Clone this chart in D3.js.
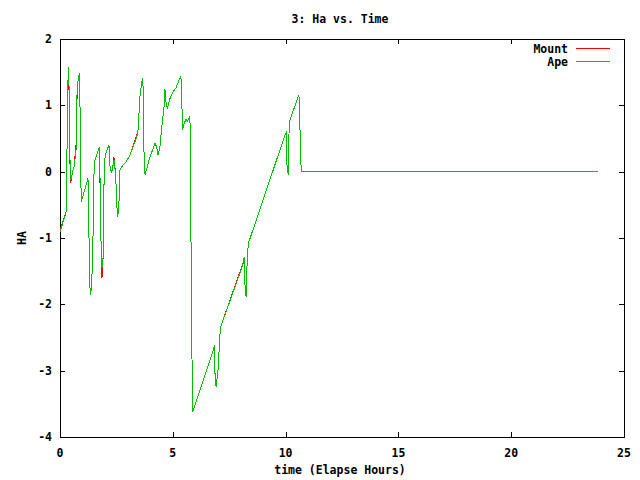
<!DOCTYPE html>
<html>
<head>
<meta charset="utf-8">
<script src="https://cdn.jsdelivr.net/npm/d3@7"></script>
<style>
  body { margin: 0; background: #fff; }
  text { font-family: "DejaVu Sans Mono", monospace; font-weight: bold; font-size: 11.5px; fill: #000; }
</style>
</head>
<body>
<script>
// sample times (elapsed hours)
var time = [0.00,0.27,0.30,0.33,0.37,0.41,0.44,0.47,0.53,0.58,0.62,0.71,0.74,0.80,0.86,0.89,0.92,0.94,
  1.24,1.27,1.30,1.34,1.39,1.45,1.49,1.52,1.74,1.77,1.82,1.86,1.91,1.95,2.00,2.17,2.22,2.29,2.34,2.39,
  2.47,2.51,2.56,2.62,2.66,2.79,2.93,3.10,3.40,3.46,3.55,3.62,3.67,3.70,3.72,3.77,3.95,4.21,4.29,4.34,
  4.43,4.51,4.61,4.65,4.70,4.76,4.85,4.92,5.00,5.14,5.24,5.36,5.40,5.44,5.50,5.59,5.64,5.73,5.76,5.79,
  5.84,5.88,6.80,6.84,6.87,6.92,6.99,7.04,7.06,7.12,8.13,8.16,8.20,8.25,8.30,8.35,9.97,10.02,10.05,
  10.12,10.16,10.59,10.63,10.65,10.70,23.85];

// HA of the ape
var ape = [-0.91,-0.61,-0.05,1.04,1.58,1.20,0.22,-0.13,-0.05,0.03,0.06,0.33,1.08,1.38,1.49,0.93,0.06,-0.46,
  -0.10,-0.53,-1.41,-1.86,-1.78,-1.29,-0.32,0.15,0.37,-0.02,-1.08,-1.45,-1.29,-0.20,0.25,0.40,0.07,-0.02,0.07,0.18,
  -0.05,-0.47,-0.68,-0.43,0.03,0.10,0.15,0.25,0.52,0.63,1.16,1.34,1.41,1.05,0.33,-0.05,0.18,0.43,0.37,0.25,
  0.37,0.67,0.97,1.25,1.05,0.94,1.08,1.14,1.20,1.26,1.35,1.44,1.04,0.63,0.73,0.79,0.75,0.81,0.84,-0.28,
  -2.51,-3.62,-2.69,-2.61,-3.04,-3.25,-3.04,-2.84,-2.57,-2.34,-1.38,-1.29,-1.71,-1.89,-1.30,-1.08,0.55,0.58,0.13,
  -0.05,0.75,1.16,0.88,0.30,0.00,0.00];

// HA of the mount (mostly hidden under ape)
var mount = [-0.88,-0.61,-0.05,1.04,1.58,1.10,0.15,-0.17,-0.05,0.03,0.06,0.40,1.00,1.38,1.49,0.93,0.06,-0.46,
  -0.10,-0.53,-1.41,-1.86,-1.78,-1.29,-0.32,0.15,0.37,-0.10,-1.08,-1.60,-1.29,-0.20,0.25,0.40,0.07,-0.02,0.07,0.22,
  -0.05,-0.47,-0.68,-0.43,0.03,0.10,0.15,0.25,0.55,0.63,1.16,1.34,1.41,1.05,0.33,-0.05,0.18,0.43,0.37,0.25,
  0.37,0.67,0.97,1.25,1.05,0.94,1.08,1.14,1.20,1.26,1.35,1.44,1.04,0.63,0.73,0.79,0.75,0.81,0.84,-0.28,
  -2.51,-3.62,-2.69,-2.61,-3.04,-3.25,-3.04,-2.84,-2.57,-2.34,-1.36,-1.29,-1.71,-1.89,-1.30,-1.08,0.55,0.58,0.13,
  -0.05,0.75,1.16,0.88,0.30,0.00,0.00];

var xTicks = [0, 5, 10, 15, 20, 25];
var yTicks = [-4, -3, -2, -1, 0, 1, 2];
var series = [
  {name: "Mount", values: mount, color: "#ff0000"},
  {name: "Ape", values: ape, color: "#00c000"}
];

var width = 640,
    height = 480;

//plot frame edges
var plotLeft = 60, plotRight = 624, plotTop = 39, plotBottom = 437;

var svg = d3.select("body")
    .append("svg")
    .attr("width", width)
    .attr("height", height);

var x = d3.scaleLinear().domain([0, 25]).range([plotLeft, plotRight]);
var y = d3.scaleLinear().domain([-4, 2]).range([plotBottom, plotTop]);

var tick = 5;

//frame
svg.append("rect")
    .attr("x", plotLeft + 0.5)
    .attr("y", plotTop + 0.5)
    .attr("width", plotRight - plotLeft)
    .attr("height", plotBottom - plotTop)
    .attr("fill", "none")
    .attr("stroke", "#000")
    .attr("shape-rendering", "crispEdges");

//inward ticks on all four sides
var ticks = svg.append("g")
    .attr("stroke", "#000")
    .attr("shape-rendering", "crispEdges");

xTicks.forEach(function(t){
    var px = Math.round(x(t)) + 0.5;
    ticks.append("line").attr("x1", px).attr("x2", px).attr("y1", plotBottom).attr("y2", plotBottom - tick);
    ticks.append("line").attr("x1", px).attr("x2", px).attr("y1", plotTop).attr("y2", plotTop + tick);
    svg.append("text")
        .attr("x", x(t))
        .attr("y", 457)
        .attr("text-anchor", "middle")
        .text(t);
});

yTicks.forEach(function(v){
    var py = Math.round(y(v)) + 0.5;
    ticks.append("line").attr("x1", plotLeft).attr("x2", plotLeft + tick).attr("y1", py).attr("y2", py);
    ticks.append("line").attr("x1", plotRight).attr("x2", plotRight - tick).attr("y1", py).attr("y2", py);
    svg.append("text")
        .attr("x", 52)
        .attr("y", y(v) + 4)
        .attr("text-anchor", "end")
        .text(v);
});

//lines, mount first so ape lies on top
var line = d3.line()
    .x(function(d, i){ return x(time[i]); })
    .y(function(d){ return y(d); });

series.forEach(function(s){
    svg.append("path")
        .datum(s.values)
        .attr("fill", "none")
        .attr("stroke", s.color)
        .attr("stroke-width", 1)
        .attr("shape-rendering", "crispEdges")
        .attr("d", line);
});

//legend
series.forEach(function(s, i){
    var ly = 48 + i * 13;
    svg.append("text")
        .attr("x", 568)
        .attr("y", ly + 5)
        .attr("text-anchor", "end")
        .text(s.name);
    svg.append("rect")
        .attr("x", 576)
        .attr("y", ly)
        .attr("width", 34)
        .attr("height", 1)
        .attr("fill", s.color);
});

//titles
svg.append("text")
    .attr("x", 340)
    .attr("y", 23)
    .attr("text-anchor", "middle")
    .text("3: Ha vs. Time");

svg.append("text")
    .attr("x", 340)
    .attr("y", 474)
    .attr("text-anchor", "middle")
    .text("time (Elapse Hours)");

svg.append("text")
    .attr("transform", "translate(26,238) rotate(-90)")
    .attr("text-anchor", "middle")
    .text("HA");
</script>
</body>
</html>
